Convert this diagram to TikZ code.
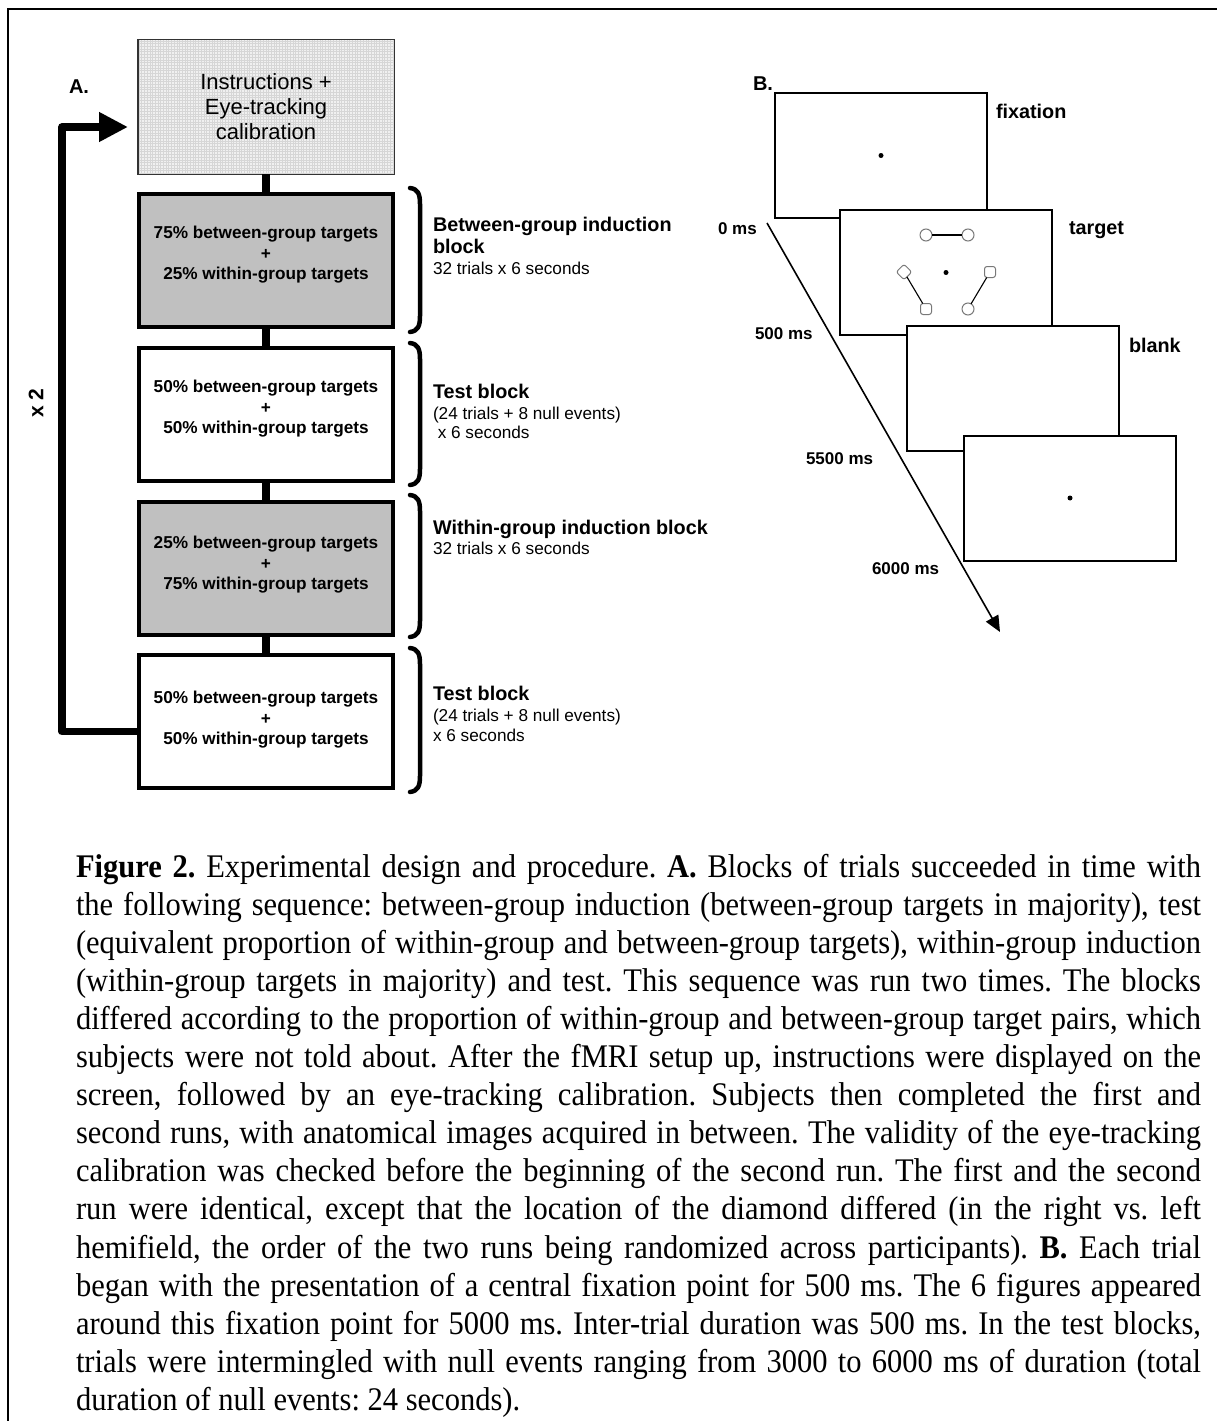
\documentclass[tikz,border=0pt]{standalone}
\usepackage{fontspec}
\setmainfont{Liberation Serif}
\newfontfamily\capfont[FakeStretch=0.925]{Liberation Serif}
\newfontfamily\arial{Liberation Sans}
\usetikzlibrary{arrows.meta}
\definecolor{blockgray}{RGB}{192,192,192}
\definecolor{shapegray}{RGB}{120,120,120}
\definecolor{meshback}{RGB}{240,240,240}
\definecolor{meshline}{RGB}{214,214,214}

\begin{document}
\begin{tikzpicture}[x=1pt,y=-1pt,
  every node/.style={inner sep=0pt, outer sep=0pt},
  blockbox/.style={draw=black, line width=4pt, minimum width=254pt, minimum height=133pt},
  blocktext/.style={font=\arial\bfseries\fontsize{17.2}{20.5}\selectfont, align=center},
  blocklink/.style={line width=8pt},
  headlbl/.style={anchor=base west, font=\arial\bfseries\fontsize{19.8}{23}\selectfont},
  detaillbl/.style={anchor=base west, font=\arial\fontsize{17.2}{20}\selectfont},
  bracket/.style={line width=4.5pt, line cap=round},
  screen/.style={draw=black, fill=white, line width=2pt, minimum width=212pt, minimum height=125pt},
  timelbl/.style={anchor=base west, font=\arial\bfseries\fontsize{17}{20}\selectfont},
  fixdot/.style={circle, fill=black, minimum size=5pt},
  ring/.style={circle, draw=shapegray, line width=1pt, fill=white, minimum size=12pt},
  tile/.style={rectangle, rounded corners=2.5pt, draw=shapegray, line width=1pt, fill=white, minimum size=11pt},
  pairline/.style={line width=1.1pt}
]
\useasboundingbox (0,0) rectangle (1217,1421);
\fill[white] (0,0) rectangle (1217,1421);

% outer frame (top and left rules)
\draw[line width=2pt] (8,1421) -- (8,9) -- (1217,9);

% ---------- Part A: block sequence ----------
\node[font=\arial\bfseries\fontsize{20}{24}\selectfont] (labA) at (79,87) {A.};

% meshed background of the instruction box
\fill[meshback] (137,39) rectangle (395,175);
\foreach \gx in {139,141.7,...,394} \draw[meshline, line width=0.6pt] (\gx,39) -- (\gx,175);
\foreach \gy in {41,43.7,...,174} \draw[meshline, line width=0.6pt] (137,\gy) -- (395,\gy);
\node[draw=black!80, line width=1.5pt, minimum width=256.5pt, minimum height=134.5pt,
      align=center, font=\arial\fontsize{22}{25}\selectfont] (b1) at (266,107)
      {Instructions +\\Eye-tracking\\calibration};

\node[blockbox, fill=blockgray] (b2) at (266,260.5) {};
\node[blockbox, fill=white]     (b3) at (266,414.5) {};
\node[blockbox, fill=blockgray] (b4) at (266,568) {};
\node[blockbox, fill=white]     (b5) at (266,721.5) {};

\node[blocktext] (t2) at (266,255) {75\% between-group targets\\+\\25\% within-group targets};
\node[blocktext] (t3) at (266,409) {50\% between-group targets\\+\\50\% within-group targets};
\node[blocktext] (t4) at (266,565) {25\% between-group targets\\+\\75\% within-group targets};
\node[blocktext] (t5) at (266,720) {50\% between-group targets\\+\\50\% within-group targets};

\draw[blocklink] (b1.south) -- (b2.north);
\draw[blocklink] (b2.south) -- (b3.north);
\draw[blocklink] (b3.south) -- (b4.north);
\draw[blocklink] (b4.south) -- (b5.north);

% repetition loop
\coordinate (loopbl) at (62,731.5);
\coordinate (looptl) at (62,127);
\coordinate (looptip) at (128,127);
\draw[line width=7.5pt, line join=round, -{Triangle[length=29pt,width=28pt]}]
  ([yshift=-10pt]b5.west) -- (loopbl) -- (looptl) -- (looptip);
\node[rotate=90, font=\arial\bfseries\fontsize{21}{24}\selectfont] (rep) at (36,403) {x 2};

% brackets grouping each block with its description
\foreach \top/\bot in {188/332, 343/485, 495/637, 648/792}{
  \draw[bracket] (410,\top) .. controls (418,\top+1) and (420,\top+6) .. (420,\top+16)
     -- (420,\bot-16) .. controls (420,\bot-6) and (418,\bot-1) .. (410,\bot);
}

\node[headlbl] (h2a) at (433,231) {Between-group induction};
\node[headlbl] (h2b) at (433,253) {block};
\node[detaillbl] (d2) at (433,274) {32 trials x 6 seconds};

\node[headlbl] (h3) at (433,398) {Test block};
\node[detaillbl] (d3a) at (433,419) {(24 trials + 8 null events)};
\node[detaillbl] (d3b) at (433,438) {\ x 6 seconds};

\node[headlbl] (h4) at (433,534) {Within-group induction block};
\node[detaillbl] (d4) at (433,554) {32 trials x 6 seconds};

\node[headlbl] (h5) at (433,700) {Test block};
\node[detaillbl] (d5a) at (433,721) {(24 trials + 8 null events)};
\node[detaillbl] (d5b) at (433,741) {x 6 seconds};

% ---------- Part B: trial timeline ----------
\node[font=\arial\bfseries\fontsize{20}{24}\selectfont] (labB) at (763,84) {B.};

\coordinate (tstart) at (767,223);
\coordinate (tend) at (1000,632);
\draw[line width=1.6pt, -{Triangle[length=16pt,width=14pt]}] (tstart) -- (tend);

\node[screen] (s1) at (881,155.5) {};
\node[fixdot] (f1) at (s1.center) {};
\node[screen] (s2) at (946,272.5) {};
\node[fixdot] (f2) at (s2.center) {};
\node[ring] (p1) at (926,235) {};
\node[ring] (p2) at (968,235) {};
\node[tile, rotate=45] (p3) at (904,272) {};
\node[tile] (p4) at (926,309) {};
\node[tile] (p5) at (990,272) {};
\node[ring] (p6) at (968,309) {};
\draw[pairline] (p1) -- (p2);
\draw[pairline] (p3) -- (p4);
\draw[pairline] (p5) -- (p6);
\node[screen] (s3) at (1013,388.5) {};
\node[screen] (s4) at (1070,498) {};
\node[fixdot] (f4) at (s4.center) {};

\node[headlbl] (n1) at (996,118) {fixation};
\node[headlbl] (n2) at (1069,234) {target};
\node[headlbl] (n3) at (1129,352) {blank};

\node[timelbl] (m0) at (718,234) {0 ms};
\node[timelbl] (m1) at (755,339) {500 ms};
\node[timelbl] (m2) at (806,464) {5500 ms};
\node[timelbl] (m3) at (872,574) {6000 ms};

% ---------- caption ----------
\node[anchor=base west] (cap) at (76,877) {\parbox[t]{1125pt}{\capfont\fontsize{33}{38.1}\selectfont\frenchspacing\noindent
\makebox[1125pt][s]{\textbf{Figure 2.} Experimental design and procedure. \textbf{A.} Blocks of trials succeeded in time with}\\
\makebox[1125pt][s]{the following sequence: between-group induction (between-group targets in majority), test}\\
\makebox[1125pt][s]{(equivalent proportion of within-group and between-group targets), within-group induction}\\
\makebox[1125pt][s]{(within-group targets in majority) and test. This sequence was run two times. The blocks}\\
\makebox[1125pt][s]{differed according to the proportion of within-group and between-group target pairs, which}\\
\makebox[1125pt][s]{subjects were not told about. After the fMRI setup up, instructions were displayed on the}\\
\makebox[1125pt][s]{screen, followed by an eye-tracking calibration. Subjects then completed the first and}\\
\makebox[1125pt][s]{second runs, with anatomical images acquired in between. The validity of the eye-tracking}\\
\makebox[1125pt][s]{calibration was checked before the beginning of the second run. The first and the second}\\
\makebox[1125pt][s]{run were identical, except that the location of the diamond differed (in the right vs. left}\\
\makebox[1125pt][s]{hemifield, the order of the two runs being randomized across participants). \textbf{B.} Each trial}\\
\makebox[1125pt][s]{began with the presentation of a central fixation point for 500 ms. The 6 figures appeared}\\
\makebox[1125pt][s]{around this fixation point for 5000 ms. Inter-trial duration was 500 ms. In the test blocks,}\\
\makebox[1125pt][s]{trials were intermingled with null events ranging from 3000 to 6000 ms of duration (total}\\
\makebox[1125pt][l]{duration of null events: 24 seconds).}}};
\end{tikzpicture}
\end{document}
